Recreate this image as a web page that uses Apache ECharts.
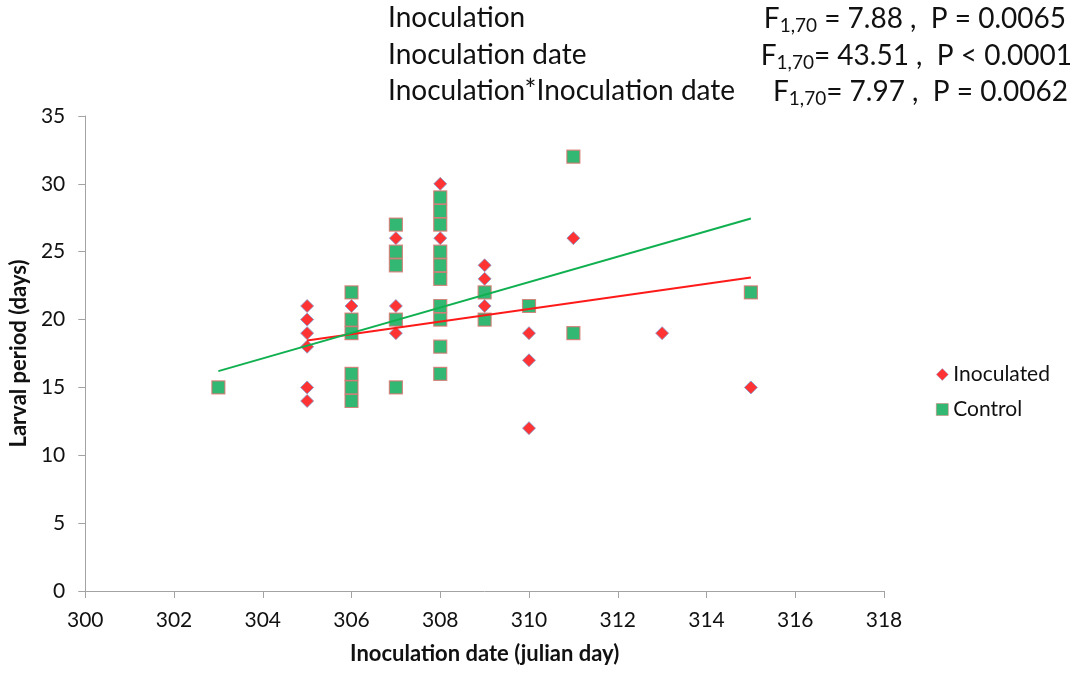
<!DOCTYPE html>
<html>
<head>
<meta charset="utf-8">
<script src="https://cdn.jsdelivr.net/npm/echarts@6/dist/echarts.min.js"></script>
<style>
  html, body { margin: 0; padding: 0; background: #fff; }
  #chart { width: 1079px; height: 673px; }
</style>
</head>
<body>
<div id="chart"></div>
<script>
// Inoculated larvae: inoculation date (julian day) and larval period (days)
const inoculatedDays    = [305, 305, 305, 305, 305, 305, 306, 307, 307, 307, 308, 308, 309, 309, 309, 310, 310, 310, 311, 313, 315];
const inoculatedPeriods = [21,  20,  19,  18,  15,  14,  21,  26,  21,  19,  30,  26,  24,  23,  21,  19,  17,  12,  26,  19,  15];

// Control larvae
const controlDays    = [303, 306, 306, 306, 306, 306, 306, 307, 307, 307, 307, 307, 308, 308, 308, 308, 308, 308, 308, 308, 308, 308, 309, 309, 310, 311, 311, 315];
const controlPeriods = [15,  22,  20,  19,  16,  15,  14,  27,  25,  24,  20,  15,  29,  28,  27,  25,  24,  23,  21,  20,  18,  16,  22,  20,  21,  32,  19,  22];

// Fitted linear trends (end points)
const inoculatedTrendDays = [305, 315];
const inoculatedTrendVals = [18.45, 23.1];
const controlTrendDays    = [303, 315];
const controlTrendVals    = [16.2, 27.45];

// Axis ticks: [min, max, step]
const xTicks = [300, 318, 2];
const yTicks = [0, 35, 5];

// ANOVA summary
const effectNames = ['Inoculation', 'Inoculation date', 'Inoculation*Inoculation date'];
const fSep        = [' = ', '= ', '= '];
const fValues     = ['7.88', '43.51', '7.97'];
const pRel        = ['=', '<', '='];
const pValues     = ['0.0065', '0.0001', '0.0062'];

const FONT = 'Lato, "Open Sans", sans-serif';
const zip = (xs, ys) => xs.map((x, i) => [x, ys[i]]);

const statRight = [13, 7, 11];
const rowY      = [20, 57, 93];
const graphics = [];
effectNames.forEach((name, i) => {
  graphics.push({
    type: 'text', left: 388, top: rowY[i] - 16,
    style: { text: name, font: '28px ' + FONT, fill: '#111' }
  });
  graphics.push({
    type: 'text', right: statRight[i], top: rowY[i] - 17,
    style: {
      text: '{f|F}{s|1,70}{f|' + fSep[i] + fValues[i] + ' ,  P ' + pRel[i] + ' ' + pValues[i] + '}',
      rich: {
        f: { fontFamily: FONT, fontSize: 28, fill: '#111', lineHeight: 34 },
        s: { fontFamily: FONT, fontSize: 19, fill: '#111', padding: [13, 0, 0, 0], lineHeight: 34 }
      }
    }
  });
});

const axisGrey = '#a3a3a3';
const chart = echarts.init(document.getElementById('chart'), null, { renderer: 'canvas' });
chart.setOption({
  backgroundColor: '#fff',
  animation: false,
  grid: { left: 84, right: 195, top: 116, bottom: 82, containLabel: false },
  legend: {
    orient: 'vertical', left: 931, top: 359, itemGap: 14,
    itemWidth: 12, itemHeight: 12,
    itemStyle: { borderWidth: 0.6 },
    textStyle: { fontFamily: FONT, fontSize: 21, color: '#111' },
    data: ['Inoculated', 'Control']
  },
  xAxis: {
    type: 'value', min: xTicks[0], max: xTicks[1], interval: xTicks[2],
    name: 'Inoculation date (julian day)', nameLocation: 'middle', nameGap: 52,
    nameTextStyle: { fontFamily: FONT, fontSize: 22, fontWeight: 'bold', color: '#111' },
    axisLine: { show: true, lineStyle: { color: axisGrey, width: 1 } },
    axisTick: { show: true, length: 7, lineStyle: { color: axisGrey } },
    axisLabel: { fontFamily: FONT, fontSize: 21, color: '#111', margin: 19 },
    splitLine: { show: false }
  },
  yAxis: {
    type: 'value', min: yTicks[0], max: yTicks[1], interval: yTicks[2],
    name: 'Larval period (days)', nameLocation: 'middle', nameGap: 53, nameRotate: 90,
    nameTextStyle: { fontFamily: FONT, fontSize: 22, fontWeight: 'bold', color: '#111' },
    axisLine: { show: true, lineStyle: { color: axisGrey, width: 1 } },
    axisTick: { show: true, length: 7, lineStyle: { color: axisGrey } },
    axisLabel: { fontFamily: FONT, fontSize: 21, color: '#111', margin: 20 },
    splitLine: { show: false }
  },
  series: [
    {
      name: 'Inoculated', type: 'scatter', symbol: 'diamond', symbolSize: [13, 13], z: 2,
      itemStyle: { color: '#ff0000', borderColor: '#7f9bd0', borderWidth: 1 },
      data: zip(inoculatedDays, inoculatedPeriods)
    },
    {
      name: 'Control', type: 'scatter', symbol: 'rect', symbolSize: 13, z: 3,
      itemStyle: { color: '#00a650', borderColor: '#d9736f', borderWidth: 1.2 },
      data: zip(controlDays, controlPeriods)
    },
    {
      name: 'Inoculated trend', type: 'line', showSymbol: false, symbol: 'none', z: 4,
      lineStyle: { color: '#ff1a1a', width: 2 },
      data: zip(inoculatedTrendDays, inoculatedTrendVals)
    },
    {
      name: 'Control trend', type: 'line', showSymbol: false, symbol: 'none', z: 4,
      lineStyle: { color: '#10b050', width: 2 },
      data: zip(controlTrendDays, controlTrendVals)
    }
  ],
  graphic: graphics
});
</script>
</body>
</html>
